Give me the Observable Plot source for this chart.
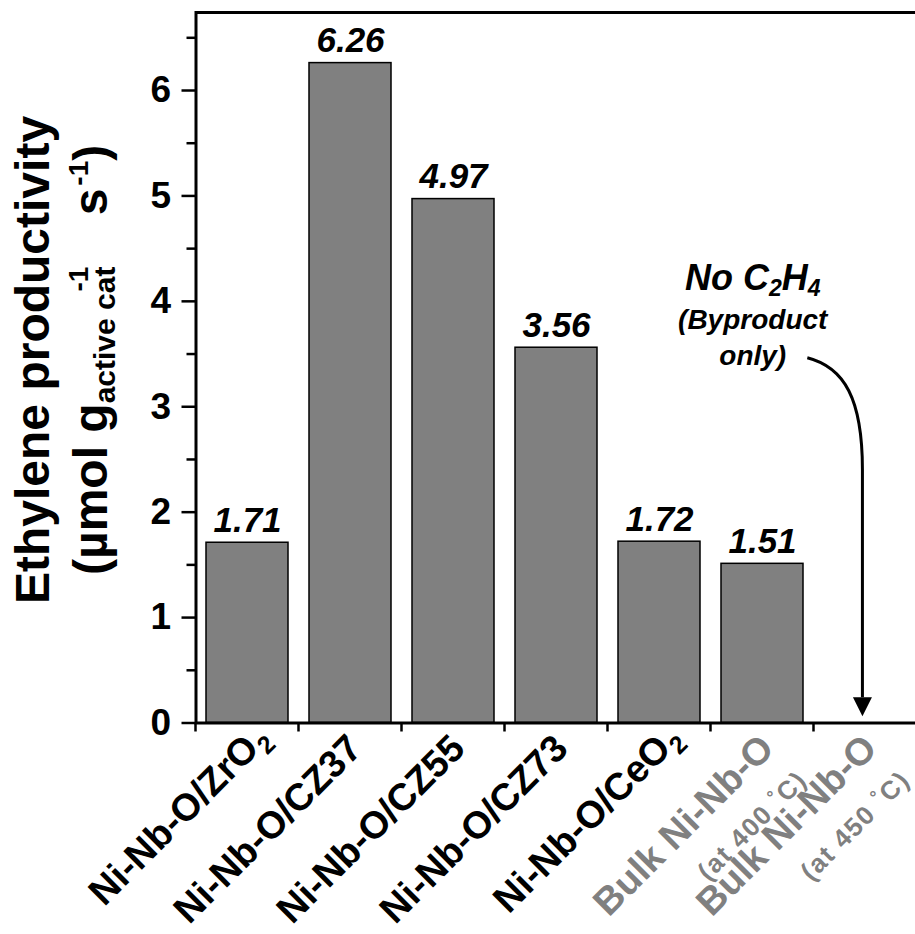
<!DOCTYPE html>
<html><head><meta charset="utf-8">
<script src="https://cdn.jsdelivr.net/npm/d3@7"></script>
<script src="https://cdn.jsdelivr.net/npm/@observablehq/plot@0.6"></script>
<style>
html,body{margin:0;padding:0;background:#fff;overflow:hidden}
</style></head><body><div id="chart"></div>
<script>
// ---- data ----
const categories = ["Ni-Nb-O/ZrO2","Ni-Nb-O/CZ37","Ni-Nb-O/CZ55","Ni-Nb-O/CZ73","Ni-Nb-O/CeO2","Bulk Ni-Nb-O (at 400 °C)","Bulk Ni-Nb-O (at 450 °C)"];
const values = [1.71, 6.26, 4.97, 3.56, 1.72, 1.51, null];
const valueLabels = ["1.71","6.26","4.97","3.56","1.72","1.51",""];
const labelMain = ["Ni-Nb-O/ZrO","Ni-Nb-O/CZ37","Ni-Nb-O/CZ55","Ni-Nb-O/CZ73","Ni-Nb-O/CeO","Bulk Ni-Nb-O","Bulk Ni-Nb-O"];
const labelSub = ["2","","","","2","",""];
const labelNote = ["","","","","","(at 400 °C)","(at 450 °C)"];
const labelColor = ["#000","#000","#000","#000","#000","#808080","#808080"];
const yTicks = [0,1,2,3,4,5,6];
const yMinorTicks = [0.5,1.5,2.5,3.5,4.5,5.5,6.5];
const yMax = 6.74;
// annotation (band position = category index + fraction of a step; y in data units)
const noteLines = [{y: 4.10, size: 36}, {y: 3.73, size: 28, text: "(Byproduct"}, {y: 3.39, size: 28, text: "only)"}];
const notePos = 4.91;
const arrowStart = {p: 5.44, y: 3.46};
const arrowC1 = {p: 5.80, y: 3.37};
const arrowC2 = {p: 5.975, y: 3.07};
const arrowMid = {p: 5.975, y: 2.40};
const arrowBase = {p: 5.975, y: 0.24};
const arrowTip = {p: 5.975, y: 0.06};

const FONT = "'Liberation Sans', Arial, Helvetica, sans-serif";
const bars = categories.map((c, i) => ({cat: c, value: values[i], label: valueLabels[i]})).filter(d => d.value != null);

const W = 915, H = 934;
const chart = Plot.plot({
  width: W, height: H,
  marginLeft: 195.5, marginRight: -2.5, marginTop: 12, marginBottom: 211.5,
  style: {fontFamily: FONT, background: "white", color: "#000"},
  x: {domain: categories, range: [195.5, 917.5], paddingInner: 0.2, paddingOuter: 0.1, axis: null},
  y: {domain: [0, yMax], range: [722.5, 12], axis: null, label: null},
  marks: [
    Plot.barY(bars, {x: "cat", y: "value", fill: "#808080", stroke: "#000", strokeWidth: 1.5}),
    Plot.text(bars, {x: "cat", y: "value", text: "label", dy: -11, lineAnchor: "bottom", fontSize: 35, fontWeight: "bold", fontStyle: "italic", fill: "#000"}),
    Plot.axisY({ticks: yTicks, tickSize: 14, tickPadding: 11, fontSize: 37, fontWeight: "bold", strokeWidth: 2.5, tickFormat: d => String(d), label: null}),
    Plot.axisY({ticks: yMinorTicks, tickSize: 9, strokeWidth: 2.5, tickFormat: () => "", label: null}),
    Plot.frame({stroke: "#000", strokeWidth: 3})
  ]
});
document.getElementById("chart").appendChild(chart);

const sx = chart.scale("x"), sy = chart.scale("y");
const bw = sx.bandwidth, step = sx.step;
const px = p => sx.apply(categories[0]) + bw / 2 + p * step;
const y0 = sy.apply(0);
const g = d3.select(chart).append("g").attr("font-family", FONT).attr("text-anchor", "start");

// x ticks at band boundaries
g.selectAll("line.xt").data(d3.range(categories.length + 1)).join("line")
  .attr("x1", i => px(i - 0.5)).attr("x2", i => px(i - 0.5))
  .attr("y1", y0).attr("y2", y0 + 9)
  .attr("stroke", "#000").attr("stroke-width", 2.5);

// category labels
categories.forEach((c, i) => {
  const cx = sx.apply(c) + bw / 2;
  const grp = g.append("g")
    .attr("transform", `translate(${cx + 14},${y0 + 28}) rotate(-45)`)
    .attr("fill", labelColor[i]).attr("font-weight", "bold");
  grp.append("text").attr("text-anchor", "end").attr("font-size", 38).text(labelMain[i]);
  if (labelSub[i]) grp.append("text").attr("text-anchor", "start").attr("x", 1).attr("y", 8).attr("font-size", 25).text(labelSub[i]);
  if (labelNote[i]) {
    const parts = labelNote[i].split("°");
    const t = grp.append("text").attr("text-anchor", "end").attr("x", 1).attr("y", 45)
      .attr("font-size", 26).attr("letter-spacing", 1.6);
    t.append("tspan").text(parts[0]);
    t.append("tspan").attr("font-size", 18).attr("dy", -9).text("°");
    t.append("tspan").attr("dy", 9).text(parts[1]);
  }
});

// y-axis title
g.append("text").attr("transform", "translate(49,604) rotate(-90)").attr("text-anchor", "start")
  .attr("font-size", 48).attr("font-weight", "bold").text("Ethylene productivity");
const t2 = g.append("text").attr("transform", "translate(107,575) rotate(-90)").attr("text-anchor", "start")
  .attr("font-size", 48).attr("font-weight", "bold");
t2.append("tspan").text("(µmol g");
t2.append("tspan").attr("font-size", 30).attr("dy", 8).text("active cat");
t2.append("tspan").attr("font-size", 28).attr("dx", -25).attr("dy", -27).text("-1");
t2.append("tspan").attr("font-size", 48).attr("dx", 38).attr("dy", 19).text(" s");
t2.append("tspan").attr("font-size", 28).attr("dx", 3).attr("dy", -19).text("-1");
t2.append("tspan").attr("font-size", 48).attr("dy", 19).text(")");

// annotation
const nx = px(notePos);
const n1 = g.append("text").attr("x", nx).attr("y", sy.apply(noteLines[0].y)).attr("text-anchor", "middle")
  .attr("font-size", noteLines[0].size).attr("font-weight", "bold").attr("font-style", "italic");
n1.append("tspan").text("No C");
n1.append("tspan").attr("font-size", 23).attr("dy", 6).text("2");
n1.append("tspan").attr("dy", -6).text("H");
n1.append("tspan").attr("font-size", 23).attr("dy", 6).text("4");
noteLines.slice(1).forEach(l => {
  g.append("text").attr("x", nx).attr("y", sy.apply(l.y)).attr("text-anchor", "middle")
    .attr("font-size", l.size).attr("font-weight", "bold").attr("font-style", "italic").text(l.text);
});

// curved arrow
const P = o => [px(o.p), sy.apply(o.y)];
const [sx0, sy0] = P(arrowStart), [c1x, c1y] = P(arrowC1), [c2x, c2y] = P(arrowC2), [mx, my] = P(arrowMid), [bx, by] = P(arrowBase), [tx, ty] = P(arrowTip);
g.append("path")
  .attr("d", `M${sx0},${sy0} C${c1x},${c1y} ${c2x},${c2y} ${mx},${my} L${bx},${by}`)
  .attr("fill", "none").attr("stroke", "#000").attr("stroke-width", 3);
g.append("path")
  .attr("d", `M${bx - 9.5},${by} L${bx + 9.5},${by} L${tx},${ty} Z`)
  .attr("fill", "#000");
</script>
</body></html>
